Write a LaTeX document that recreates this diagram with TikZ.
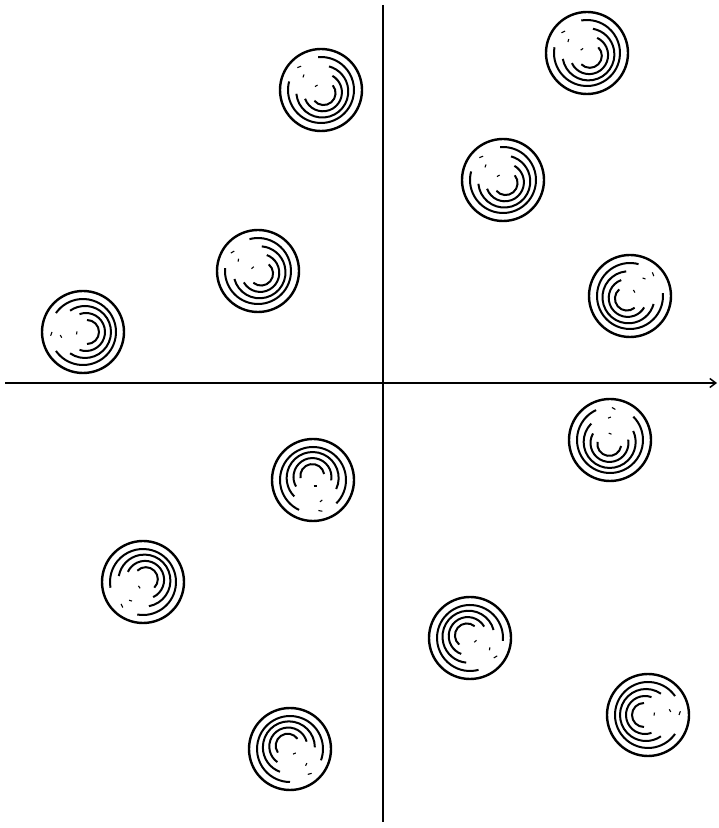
\documentclass[tikz,border=0pt]{standalone}
\usetikzlibrary{arrows.meta}
\begin{document}
\begin{tikzpicture}[x=1pt,y=1pt,
  rim/.style={line width=2.4pt},
  ring/.style={line width=2pt},
  axis/.style={line width=1.5pt},
  speck/.style={line width=1.1pt}]
\useasboundingbox (0,0) rectangle (719,828);
\fill[white] (0,0) rectangle (719,828);
\coordinate (L) at (5,445);
\coordinate (R) at (717,445);
\coordinate (T) at (383,823);
\coordinate (B) at (383,6);
\draw[axis,-{Straight Barb[length=6pt,width=9pt]}] (L) -- (R);
\draw[axis] (T) -- (B);
\foreach \cx/\cy/\g in {321/90/130, 587/53/135, 503/180/130, 258/271/140,
                        630/296/40, 83/332/180, 610/440/80, 313/480/-80,
                        143/582/-135, 470/638/-40, 648/715/0, 290/749/-55}{
  \pgfmathsetmacro\yy{828-\cy}
  \draw[rim] (\cx,\yy) circle[radius=41pt];
  \foreach \r/\d/\h in {33/0/35, 26/2/55, 19/3/70, 12/4/90}{
    \draw[ring] (\cx,\yy) ++(\g+180:\d) ++(\g+\h:\r)
      arc[start angle=\g+\h, end angle=\g+360-\h, radius=\r pt];
  }
  \draw[speck] (\cx,\yy) ++(\g:31) -- ++(\g+70:4);
  \draw[speck] (\cx,\yy) ++(\g+15:22) -- ++(\g-60:3);
  \draw[speck] (\cx,\yy) ++(\g-5:6) -- ++(\g+80:3);
}
\end{tikzpicture}
\end{document}
